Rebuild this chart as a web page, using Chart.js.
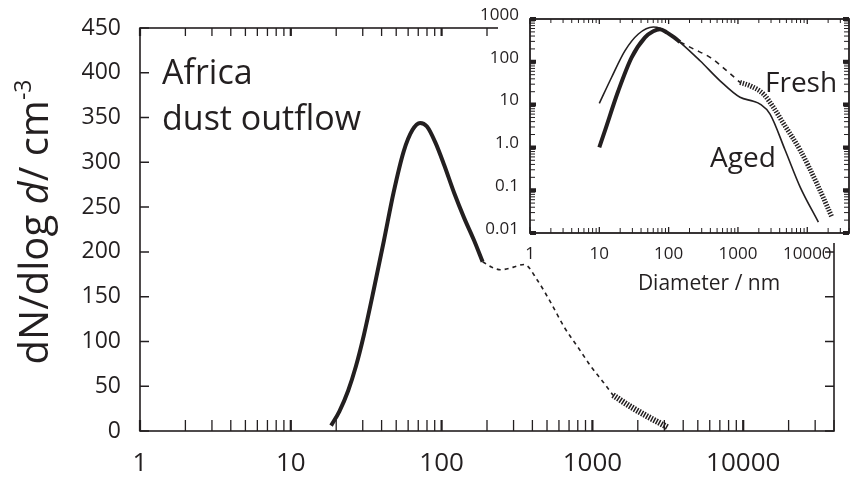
<!DOCTYPE html>
<html>
<head>
<meta charset="utf-8">
<script src="https://cdn.jsdelivr.net/npm/chart.js@4.4.1/dist/chart.umd.min.js"></script>
<style>
  html, body { margin: 0; padding: 0; background: #fff; }
  #wrap { position: relative; width: 866px; height: 483px; }
  #main { position: absolute; left: 0; top: 0; }
  #inset { position: absolute; left: 440px; top: 0; }
</style>
</head>
<body>
<div id="wrap">
  <canvas id="main" width="866" height="483"></canvas>
  <canvas id="inset" width="426" height="300"></canvas>
</div>
<script>
// main panel: Africa dust outflow, linear number size distribution
const mainSolidD = [18.5, 21, 24, 27, 30.5, 35.5, 41.5, 48, 56, 64, 72, 80, 91, 104, 121, 141, 164, 187];
const mainSolidN = [6, 22, 45, 72, 107, 158, 213, 266, 312, 336, 344, 340, 322, 297, 266, 238, 213, 189];
const mainDashD = [187, 215, 247, 300, 353, 433, 531, 650, 798, 979, 1200, 1370];
const mainDashN = [189, 183, 180, 183, 186, 168, 143, 116, 94, 72, 53, 40];
const mainDotD = [1370, 1800, 2330, 2716, 3160];
const mainDotN = [40, 27, 16, 10, 4];

// inset: log-log, aged vs fresh
const agedD = [10, 15, 23.5, 36.6, 60, 75, 100, 146, 284, 552, 1072, 1668, 2083, 2905, 4786, 7870, 14450];
const agedN = [10.7, 43, 182, 446, 650, 610, 450, 286, 106, 36, 14.8, 12, 10.3, 6, 0.87, 0.12, 0.018];
const freshSolidD = [10, 12.1, 18.8, 29.3, 45.7, 60, 75, 95, 120, 146];
const freshSolidN = [1.0, 2.5, 21, 127, 373, 520, 580, 480, 370, 290];
const freshDashD = [146, 228, 396, 689, 1072];
const freshDashN = [290, 200, 127, 62, 33];
const freshDotD = [1072, 1495, 2330, 3250, 4500, 7870, 13700, 22560];
const freshDotN = [33, 27.5, 17.7, 8.6, 3.7, 0.87, 0.145, 0.024];

const mainYTicks = [0, 50, 100, 150, 200, 250, 300, 350, 400, 450];

const INK = '#231f20';
const FONT = '"Open Sans", "Noto Sans", sans-serif';

function toPts(xs, ys) {
  return xs.map((x, i) => ({ x: x, y: ys[i] }));
}

function isDecade(v) {
  const l = Math.log10(v);
  return Math.abs(l - Math.round(l)) < 1e-6;
}

function logTicks(min, max) {
  const out = [];
  for (let e = Math.floor(Math.log10(min)); e <= Math.ceil(Math.log10(max)); e++) {
    for (let m = 1; m < 10; m++) {
      const v = m * Math.pow(10, e);
      if (v >= min * 0.999 && v <= max * 1.001) out.push({ v: v, major: m === 1 });
    }
  }
  return out;
}

// box round the plot with inward ticks on every side
const framePlugin = {
  id: 'frame',
  beforeDatasetsDraw(chart, args, o) {
    const { ctx, chartArea: a, scales: { x, y } } = chart;
    ctx.save();
    ctx.strokeStyle = INK;
    ctx.lineWidth = o.lineWidth;
    ctx.strokeRect(a.left, a.top, a.right - a.left, a.bottom - a.top);
    const xt = logTicks(x.min, x.max);
    const yt = o.yLog ? logTicks(y.min, y.max) : o.yTicks.map(v => ({ v: v, major: true }));
    xt.forEach(t => {
      const px = x.getPixelForValue(t.v);
      ctx.lineWidth = t.major ? o.majorWidth : o.minorWidth;
      ctx.beginPath();
      ctx.moveTo(px, a.bottom);
      ctx.lineTo(px, a.bottom - (t.major ? o.xMajorLen : o.xLen));
      ctx.moveTo(px, a.top);
      ctx.lineTo(px, a.top + (t.major ? o.topMajorLen : o.topLen));
      ctx.stroke();
    });
    yt.forEach(t => {
      const py = y.getPixelForValue(t.v);
      ctx.lineWidth = t.major ? o.yMajorWidth : o.minorWidth;
      const len = t.major ? o.yMajorLen : o.yLen;
      ctx.beginPath();
      ctx.moveTo(a.left, py);
      ctx.lineTo(a.left + len, py);
      ctx.moveTo(a.right, py);
      ctx.lineTo(a.right - len, py);
      ctx.stroke();
    });
    ctx.restore();
  }
};

const mainText = {
  id: 'mainText',
  afterDraw(chart) {
    const ctx = chart.ctx;
    ctx.save();
    ctx.fillStyle = INK;
    ctx.textBaseline = 'alphabetic';
    ctx.font = '34px ' + FONT;
    ctx.fillText('Africa', 162, 84);
    ctx.fillText('dust outflow', 162, 130);

    // y axis title, mixed styles
    const parts = [
      { t: 'dN/dlog ', f: '40px ' + FONT, dy: 0 },
      { t: 'd', f: 'italic 40px ' + FONT, dy: 0 },
      { t: '/ cm', f: '40px ' + FONT, dy: 0 },
      { t: '-3', f: '23px ' + FONT, dy: -17 }
    ];
    let w = 0;
    parts.forEach(p => { ctx.font = p.f; p.w = ctx.measureText(p.t).width; w += p.w; });
    ctx.translate(48, 222);
    ctx.rotate(-Math.PI / 2);
    let cx = -w / 2;
    parts.forEach(p => {
      ctx.font = p.f;
      ctx.fillText(p.t, cx, p.dy);
      cx += p.w;
    });
    ctx.restore();
  }
};

const insetBack = {
  id: 'insetBack',
  beforeDraw(chart) {
    const ctx = chart.ctx;
    ctx.save();
    ctx.fillStyle = '#fff';
    ctx.fillRect(58, 0, chart.width - 58, 243);
    ctx.restore();
  }
};

const insetText = {
  id: 'insetText',
  afterDraw(chart) {
    const ctx = chart.ctx;
    ctx.save();
    ctx.fillStyle = INK;
    ctx.font = '28px ' + FONT;
    ctx.fillText('Fresh', 325, 92);
    ctx.fillText('Aged', 270, 167);
    ctx.font = '21px ' + FONT;
    ctx.textAlign = 'center';
    ctx.fillText('Diameter / nm', 269, 290);
    ctx.restore();
  }
};

const lineBase = {
  point: { radius: 0 },
  line: { borderColor: INK, fill: false, cubicInterpolationMode: 'monotone', borderCapStyle: 'butt' }
};

new Chart(document.getElementById('main'), {
  type: 'line',
  data: {
    datasets: [
      { data: toPts(mainSolidD, mainSolidN), borderWidth: 4 },
      { data: toPts(mainDashD, mainDashN), borderWidth: 1.6, borderDash: [4, 4] },
      { data: toPts(mainDotD, mainDotN), borderWidth: 6, borderDash: [1.5, 1.3] }
    ]
  },
  options: {
    responsive: false,
    animation: false,
    layout: { padding: { top: 28, right: 32, left: 0, bottom: 0 } },
    elements: lineBase,
    plugins: {
      legend: { display: false },
      tooltip: { enabled: false },
      frame: {
        lineWidth: 1.6, majorWidth: 2.2, minorWidth: 1.3, yMajorWidth: 1.5,
        xLen: 11, xMajorLen: 11, topLen: 8, topMajorLen: 8, yLen: 9, yMajorLen: 9,
        yTicks: mainYTicks
      }
    },
    scales: {
      x: {
        type: 'logarithmic', min: 1, max: 40000,
        grid: { display: false }, border: { display: false },
        ticks: {
          autoSkip: false, maxRotation: 0, padding: 9, color: INK,
          font: { family: FONT, size: 26 },
          callback: v => isDecade(v) ? String(Math.round(v)) : ''
        },
        afterFit: s => { s.height = 52; }
      },
      y: {
        min: 0, max: 450,
        grid: { display: false }, border: { display: false },
        afterBuildTicks: s => { s.ticks = mainYTicks.map(v => ({ value: v })); },
        ticks: { padding: 11, color: INK, font: { family: FONT, size: 23 } },
        afterFit: s => { s.width = 140; }
      }
    }
  },
  plugins: [framePlugin, mainText]
});

new Chart(document.getElementById('inset'), {
  type: 'line',
  data: {
    datasets: [
      { data: toPts(agedD, agedN), borderWidth: 1.6 },
      { data: toPts(freshSolidD, freshSolidN), borderWidth: 4 },
      { data: toPts(freshDashD, freshDashN), borderWidth: 1.6, borderDash: [5, 5] },
      { data: toPts(freshDotD, freshDotN), borderWidth: 5, borderDash: [1.4, 1.4] }
    ]
  },
  options: {
    responsive: false,
    animation: false,
    layout: { padding: { top: 19, right: 17, left: 0, bottom: 0 } },
    elements: lineBase,
    plugins: {
      legend: { display: false },
      tooltip: { enabled: false },
      frame: {
        lineWidth: 1.8, majorWidth: 1.3, minorWidth: 1, yMajorWidth: 4, yLog: true,
        xLen: 5, xMajorLen: 6, topLen: 4, topMajorLen: 5, yLen: 5, yMajorLen: 6
      }
    },
    scales: {
      x: {
        type: 'logarithmic', min: 1, max: 40000,
        grid: { display: false }, border: { display: false },
        ticks: {
          autoSkip: false, maxRotation: 0, padding: 3, color: INK,
          font: { family: FONT, size: 17 },
          callback: v => isDecade(v) ? String(Math.round(v)) : ''
        },
        afterFit: s => { s.height = 67; }
      },
      y: {
        type: 'logarithmic', min: 0.01, max: 1000,
        grid: { display: false }, border: { display: false },
        ticks: {
          autoSkip: false, padding: 3, color: INK, labelOffset: -4,
          font: { family: FONT, size: 17 },
          callback: v => {
            if (!isDecade(v)) return '';
            if (Math.abs(v - 1) < 1e-9) return '1.0';
            return v >= 1 ? String(Math.round(v)) : String(+v.toPrecision(1));
          }
        },
        afterFit: s => { s.width = 90; }
      }
    }
  },
  plugins: [insetBack, framePlugin, insetText]
});
</script>
</body>
</html>
